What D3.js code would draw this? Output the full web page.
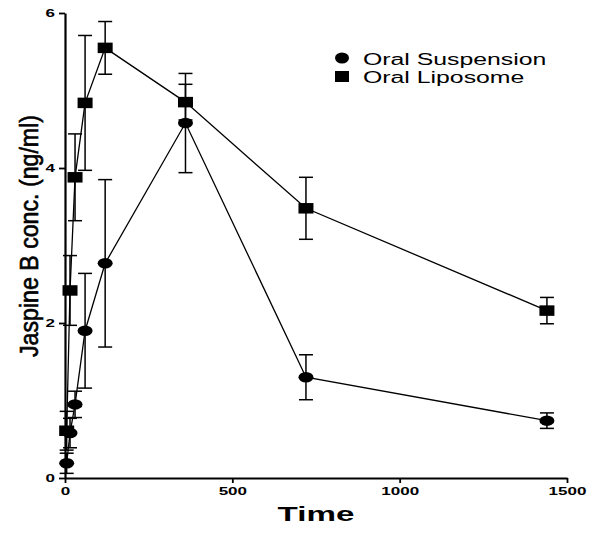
<!DOCTYPE html>
<html>
<head>
<meta charset="utf-8">
<script src="https://cdn.jsdelivr.net/npm/d3@7"></script>
<style>
  body { margin: 0; background: #fff; }
  svg { display: block; font-family: 'Liberation Sans', Arial, sans-serif; }
</style>
</head>
<body>
<svg id="chart" width="592" height="533"></svg>
<script>
// sampling times (min) and mean +/- SD concentrations
const times = [5, 15, 30, 60, 120, 360, 720, 1440]
const suspensionMean = [0.19, 0.58, 0.95, 1.90, 2.77, 4.58, 1.30, 0.74]
const suspensionSd = [0.13, 0.19, 0.17, 0.74, 1.08, 0.64, 0.29, 0.10]
const liposomeMean = [0.61, 2.42, 3.88, 4.84, 5.55, 4.85, 3.48, 2.16]
const liposomeSd = [0.25, 0.45, 0.56, 0.87, 0.34, 0.23, 0.40, 0.17]
const xTickValues = [0, 500, 1000, 1500]
const yTickValues = [0, 2, 4, 6]
const seriesNames = ['Oral Suspension', 'Oral Liposome']

const svg = d3.select('#chart')
const width = +svg.attr('width')
const height = +svg.attr('height')
const margin = { top: 13, right: 25, bottom: 55, left: 65 }
const innerWidth = width - margin.left - margin.right
const innerHeight = height - margin.top - margin.bottom
const stretch = 1.7 // figure text is widened horizontally

// widen a text selection by stretching its glyphs to a longer textLength
const widen = (sel, factor) => sel.each(function () {
  const len = this.getComputedTextLength()
  d3.select(this)
    .attr('textLength', len * factor)
    .attr('lengthAdjust', 'spacingAndGlyphs')
})

const g = svg.append('g')
  .attr('transform', `translate(${margin.left}, ${margin.top})`)

const xScale = d3.scaleLinear().domain([0, 1500]).range([0, innerWidth])
const yScale = d3.scaleLinear().domain([0, 6]).range([innerHeight, 0])

// axes
const xAxisG = g.append('g')
  .attr('transform', `translate(0, ${innerHeight})`)
  .call(d3.axisBottom(xScale).tickValues(xTickValues).tickFormat(d3.format('d'))
    .tickSizeInner(5).tickSizeOuter(0).tickPadding(5))
const yAxisG = g.append('g')
  .call(d3.axisLeft(yScale).tickValues(yTickValues).tickFormat(d3.format('d'))
    .tickSizeInner(6).tickSizeOuter(0).tickPadding(4))

;[xAxisG, yAxisG].forEach(a => {
  a.select('.domain').attr('stroke-width', 2.2)
  a.selectAll('.tick line').attr('stroke-width', 1.8)
  a.selectAll('text')
    .attr('font-size', 10)
    .attr('font-weight', 'bold')
    .attr('font-family', "'Liberation Sans', Arial, sans-serif")
    .attr('fill', '#000')
    .call(widen, stretch)
})

// axis titles
svg.append('text')
  .attr('x', margin.left + innerWidth / 2)
  .attr('y', 521)
  .attr('text-anchor', 'middle')
  .attr('font-size', 19.5)
  .attr('font-weight', 'bold')
  .text('Time')
  .call(widen, stretch)
svg.append('text')
  .attr('transform', 'translate(38, 236) rotate(-90)')
  .attr('text-anchor', 'middle')
  .attr('font-size', 25)
  .attr('textLength', 242)
  .attr('lengthAdjust', 'spacingAndGlyphs')
  .attr('stroke', '#000')
  .attr('stroke-width', 0.6)
  .text('Jaspine B conc. (ng/ml)')

// build series rows
const series = [
  { name: seriesNames[0], shape: 'circle', rows: times.map((t, i) => ({ t, m: suspensionMean[i], sd: suspensionSd[i] })) },
  { name: seriesNames[1], shape: 'square', rows: times.map((t, i) => ({ t, m: liposomeMean[i], sd: liposomeSd[i] })) }
]

const line = d3.line().x(d => xScale(d.t)).y(d => yScale(d.m))
const capHalf = 7

const drawMarker = (sel, shape, w, h) => {
  if (shape === 'circle') {
    sel.append('ellipse').attr('rx', w / 2).attr('ry', h / 2).attr('fill', '#000')
  } else {
    sel.append('rect').attr('x', -w / 2).attr('y', -h / 2).attr('width', w).attr('height', h).attr('fill', '#000')
  }
}

series.forEach(s => {
  const sg = g.append('g').attr('class', s.shape)
  sg.append('path')
    .datum(s.rows)
    .attr('d', line)
    .attr('fill', 'none')
    .attr('stroke', '#000')
    .attr('stroke-width', 1.3)

  const bars = sg.selectAll('g.err')
    .data(s.rows)
    .enter()
    .append('g')
    .attr('class', 'err')
    .attr('stroke', '#000')
    .attr('stroke-width', 1.5)
  bars.append('line')
    .attr('x1', d => xScale(d.t)).attr('x2', d => xScale(d.t))
    .attr('y1', d => yScale(d.m + d.sd)).attr('y2', d => yScale(d.m - d.sd))
  bars.append('line')
    .attr('x1', d => xScale(d.t) - capHalf).attr('x2', d => xScale(d.t) + capHalf)
    .attr('y1', d => yScale(d.m + d.sd)).attr('y2', d => yScale(d.m + d.sd))
  bars.append('line')
    .attr('x1', d => xScale(d.t) - capHalf).attr('x2', d => xScale(d.t) + capHalf)
    .attr('y1', d => yScale(d.m - d.sd)).attr('y2', d => yScale(d.m - d.sd))

  sg.selectAll('g.pt')
    .data(s.rows)
    .enter()
    .append('g')
    .attr('class', 'pt')
    .attr('transform', d => `translate(${xScale(d.t)}, ${yScale(d.m)})`)
    .each(function () { drawMarker(d3.select(this), s.shape, 15, 10.5) })
})

// legend
const legend = svg.append('g').attr('transform', 'translate(342, 58)')
series.forEach((s, i) => {
  const row = legend.append('g').attr('transform', `translate(0, ${i * 18.5})`)
  drawMarker(row, s.shape, 14, 11)
  row.append('text')
    .attr('x', 21)
    .attr('y', 6.5)
    .attr('font-size', 16)
    .text(s.name)
    .call(widen, 1.55)
})
</script>
</body>
</html>
